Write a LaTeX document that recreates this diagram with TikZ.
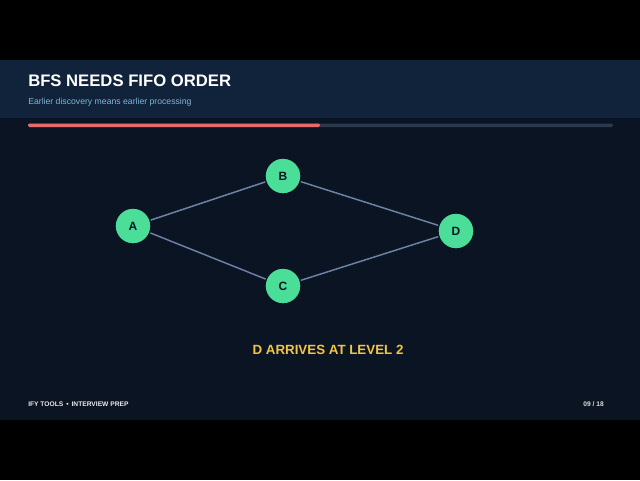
\documentclass[tikz,border=0pt]{standalone}
\usepackage{fontspec}
\setmainfont{Liberation Sans}
\definecolor{slidebg}{HTML}{0B1422}
\definecolor{headbg}{HTML}{10233A}
\definecolor{nodegreen}{HTML}{4ADE98}
\definecolor{edgeblue}{HTML}{6C82A6}
\definecolor{barred}{HTML}{E86A6A}
\definecolor{bargray}{HTML}{2A3A4E}
\definecolor{subblue}{HTML}{7FB6D8}
\definecolor{gold}{HTML}{F5C542}
\tikzset{
  g_node/.style = {circle, fill=nodegreen, draw=slidebg, line width=1pt, minimum size=27pt, inner sep=0pt, font=\bfseries\fontsize{9}{10}\selectfont, text=slidebg},
  g_edge/.style = {edgeblue, line width=1.1pt},
}
\begin{document}
\begin{tikzpicture}[x=0.75pt,y=-0.75pt]
    \useasboundingbox (0,0) rectangle (640,480);
    \fill[black] (0,0) rectangle (640,480);
    \fill[slidebg] (0,60) rectangle (640,420);
    \fill[headbg] (0,60) rectangle (640,118);
    \node[anchor=west, inner sep=0pt, text=white, font=\bfseries\fontsize{12.5}{14}\selectfont] (title) at (28,81) {BFS NEEDS FIFO ORDER};
    \node[anchor=west, inner sep=0pt, text=subblue, font=\fontsize{6.5}{8}\selectfont] (sub) at (28,102) {Earlier discovery means earlier processing};
    \fill[bargray, rounded corners=1pt] (28,123.5) rectangle (613,127);
    \fill[barred, rounded corners=1pt] (28,123.5) rectangle (320,127);
    % graph
    \node[g_node] (A) at (133,226) {A};
    \node[g_node] (B) at (283,176) {B};
    \node[g_node] (C) at (283,286) {C};
    \node[g_node] (D) at (456,231) {D};
    \draw[g_edge] (A) -- (B);
    \draw[g_edge] (A) -- (C);
    \draw[g_edge] (B) -- (D);
    \draw[g_edge] (C) -- (D);
    \node[text=gold, font=\bfseries\fontsize{10}{12}\selectfont] (msg) at (328,350) {D ARRIVES AT LEVEL 2};
    \node[anchor=west, inner sep=0pt, text=white!85!gray, font=\bfseries\fontsize{5}{6}\selectfont] (foot) at (28,404) {IFY TOOLS \,•\, INTERVIEW PREP};
    \node[anchor=east, inner sep=0pt, text=white!75!gray, font=\bfseries\fontsize{5}{6}\selectfont] (page) at (604,404) {09 / 18};
\end{tikzpicture}
\end{document}
